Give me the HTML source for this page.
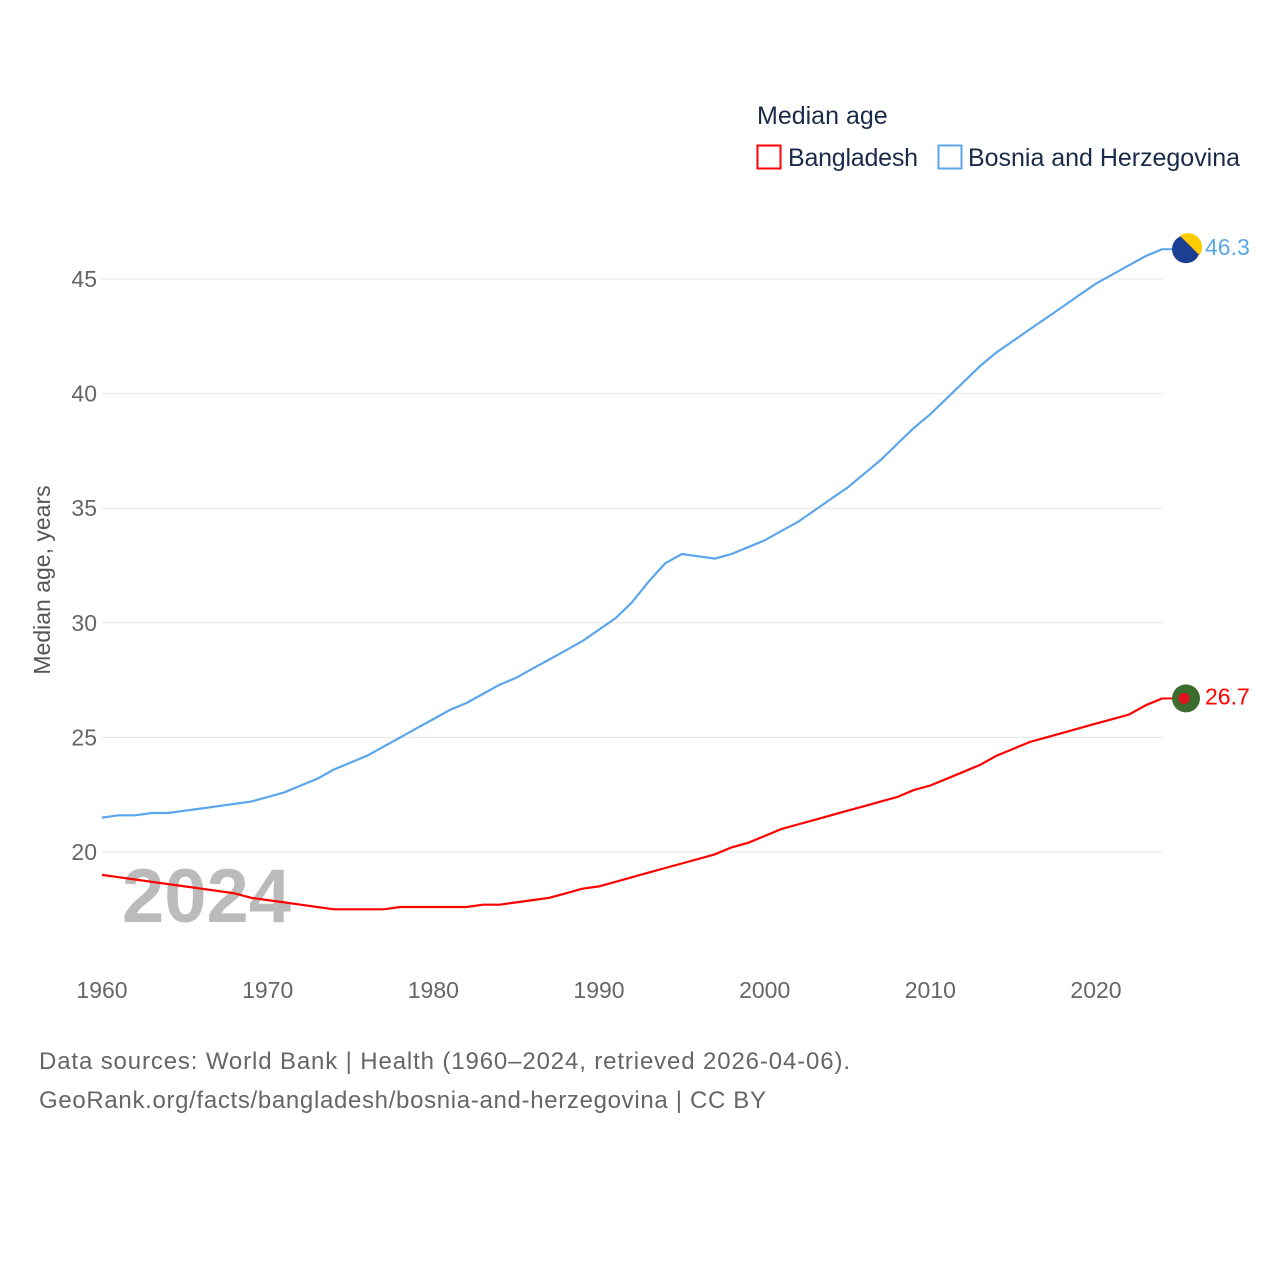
<!DOCTYPE html>
<html><head><meta charset="utf-8">
<style>
body{margin:0;background:#fff;font-family:"Liberation Sans",sans-serif;}
svg text{font-family:"Liberation Sans",sans-serif;}
</style></head>
<body>
<svg id="chart" width="1280" height="1280" viewBox="0 0 1280 1280">
  <text x="757" y="124" font-size="25" fill="#1a2b4a">Median age</text>
  <g>
    <rect x="757.5" y="145.5" width="23" height="23" fill="none" stroke="#ff0000" stroke-width="2"/>
    <text x="788" y="166" font-size="25" fill="#1a2b4a" textLength="130">Bangladesh</text>
  </g>
  <g>
    <rect x="938.5" y="145.5" width="23" height="23" fill="none" stroke="#5ba6ea" stroke-width="2"/>
    <text x="968" y="166" font-size="25" fill="#1a2b4a" textLength="272">Bosnia and Herzegovina</text>
  </g>
  <g id="grid"></g>
  <g id="yticks"></g>
  <g id="xticks"></g>
  <text transform="translate(50,580) rotate(-90)" text-anchor="middle" font-size="23" fill="#555">Median age, years</text>
  <text x="122" y="922" font-size="76" font-weight="bold" fill="#bbbbbb">2024</text>
  <g id="series"></g>
  <text x="39" y="1069" font-size="24" fill="#666" textLength="811">Data sources: World Bank | Health (1960–2024, retrieved 2026-04-06).</text>
  <text x="39" y="1108" font-size="24" fill="#666" textLength="727">GeoRank.org/facts/bangladesh/bosnia-and-herzegovina | CC BY</text>
</svg>
<script>
const years = [];for(let y=1960;y<=2024;y++)years.push(y);
const bosnia = [21.5,21.6,21.6,21.7,21.7,21.8,21.9,22.0,22.1,22.2,22.4,22.6,22.9,23.2,23.6,23.9,24.2,24.6,25.0,25.4,25.8,26.2,26.5,26.9,27.3,27.6,28.0,28.4,28.8,29.2,29.7,30.2,30.9,31.8,32.6,33.0,32.9,32.8,33.0,33.3,33.6,34.0,34.4,34.9,35.4,35.9,36.5,37.1,37.8,38.5,39.1,39.8,40.5,41.2,41.8,42.3,42.8,43.3,43.8,44.3,44.8,45.2,45.6,46.0,46.3];
const bangladesh = [19.0,18.9,18.8,18.7,18.6,18.5,18.4,18.3,18.2,18.0,17.9,17.8,17.7,17.6,17.5,17.5,17.5,17.5,17.6,17.6,17.6,17.6,17.6,17.7,17.7,17.8,17.9,18.0,18.2,18.4,18.5,18.7,18.9,19.1,19.3,19.5,19.7,19.9,20.2,20.4,20.7,21.0,21.2,21.4,21.6,21.8,22.0,22.2,22.4,22.7,22.9,23.2,23.5,23.8,24.2,24.5,24.8,25.0,25.2,25.4,25.6,25.8,26.0,26.4,26.7];
const yTicks = [20,25,30,35,40,45];
const xTicks = [1960,1970,1980,1990,2000,2010,2020];
const X = y => 102 + (y-1960)*(994/60);
const Y = v => 852 - (v-20)*(573/25);
const NS='http://www.w3.org/2000/svg';
function mk(tag,attrs,parent,txt){const e=document.createElementNS(NS,tag);for(const k in attrs)e.setAttribute(k,attrs[k]);if(txt!==undefined)e.textContent=txt;parent.appendChild(e);return e;}
const grid=document.getElementById('grid'),yt=document.getElementById('yticks'),xt=document.getElementById('xticks'),ser=document.getElementById('series');
yTicks.forEach(v=>{
  const l=mk('line',{x1:102,x2:1162,y1:Y(v),y2:Y(v),stroke:'#e6e6e6','stroke-width':1},grid);
  
  
  const t=mk('text',{x:97,y:Y(v)+8,'text-anchor':'end','font-size':23,fill:'#666'},yt,String(v));
  
  
});
xTicks.forEach(v=>{
  const t=mk('text',{x:X(v),y:998,'text-anchor':'middle','font-size':23,fill:'#666'},xt,String(v));
  
  
});
function line(data,color,name){
  const d=data.map((v,i)=>(i?'L':'M')+X(years[i]).toFixed(1)+','+Y(v).toFixed(1)).join('');
  const p=mk('path',{d:d,fill:'none',stroke:color,'stroke-width':2.2},ser);
  
  
  const last=data[data.length-1],ly=Y(last);
  const c=mk('line',{x1:X(2024),x2:1175,y1:ly,y2:ly,stroke:color,'stroke-width':2},ser);
  
  
  const lab=mk('text',{x:1205,y:ly+6,'font-size':23,fill:color},ser,last.toFixed(1));
  
  
  return ly;
}
const by=line(bosnia,'#5ba6ea','bosnia');
const gy=line(bangladesh,'#ff0000','bangladesh');
let f=mk('circle',{cx:1186,cy:by,r:14,fill:'#1c3f94'},ser);


let f2=mk('path',{d:`M${1186-6},${by-13.5} L${1186+13.5},${by+6} A14,14 0 0 0 ${1186-6},${by-13.5}Z`,fill:'#fecb00'},ser);


let g=mk('circle',{cx:1186,cy:gy,r:14,fill:'#3e6b2e'},ser);


let g2=mk('circle',{cx:1184,cy:gy,r:5.5,fill:'#e0101c'},ser);


</script>
</body></html>
